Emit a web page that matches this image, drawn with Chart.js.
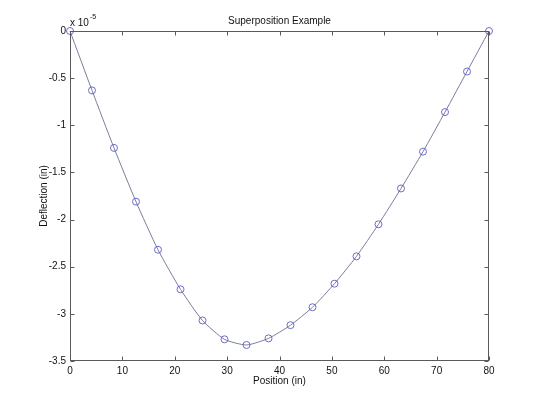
<!DOCTYPE html>
<html>
<head>
<meta charset="utf-8">
<script src="https://cdn.jsdelivr.net/npm/chart.js@4.4.0/dist/chart.umd.min.js"></script>
<style>
  html, body { margin: 0; padding: 0; background: #fff; }
  #wrap { width: 540px; height: 405px; }
</style>
</head>
<body>
<div id="wrap"><canvas id="chart" width="540" height="405"></canvas></div>
<script>
// position along the beam (in)
const positions = [0, 4.2, 8.4, 12.6, 16.8, 21.1, 25.3, 29.5, 33.7, 37.9,
                   42.1, 46.3, 50.5, 54.7, 58.9, 63.2, 67.4, 71.6, 75.8, 80];
// deflection, in units of 1e-5 in
const deflections = [0, -0.63, -1.24, -1.81, -2.32, -2.74, -3.07, -3.27, -3.33, -3.26,
                     -3.12, -2.93, -2.68, -2.39, -2.05, -1.67, -1.28, -0.86, -0.43, 0];
const xTicks = [0, 10, 20, 30, 40, 50, 60, 70, 80];
const yTicks = [0, -0.5, -1, -1.5, -2, -2.5, -3, -3.5];

const FONT = "'Liberation Sans', Arial, sans-serif";
const AXIS = "#5a5a5a";

// MATLAB style: box round the axes, ticks pointing inwards on all four sides
const matlabAxes = {
  id: "matlabAxes",
  afterDraw(chart) {
    const { ctx, chartArea: a, scales } = chart;
    const x = scales.x, y = scales.y;
    ctx.save();
    ctx.strokeStyle = AXIS;
    ctx.lineWidth = 1;
    const L = Math.round(a.left) + 0.5, R = Math.round(a.right) - 0.5;
    const T = Math.round(a.top) + 0.5, B = Math.round(a.bottom) - 0.5;
    ctx.strokeRect(L, T, R - L, B - T);
    ctx.beginPath();
    x.ticks.forEach(t => {
      const px = Math.round(x.getPixelForValue(t.value)) + 0.5;
      ctx.moveTo(px, B); ctx.lineTo(px, B - 4);
      ctx.moveTo(px, T); ctx.lineTo(px, T + 4);
    });
    y.ticks.forEach(t => {
      const py = Math.round(y.getPixelForValue(t.value)) + 0.5;
      ctx.moveTo(L, py); ctx.lineTo(L + 4, py);
      ctx.moveTo(R, py); ctx.lineTo(R - 4, py);
    });
    ctx.stroke();

    // title
    ctx.fillStyle = "#111";
    ctx.textBaseline = "middle";
    ctx.textAlign = "center";
    ctx.font = "10px " + FONT;
    ctx.fillText("Superposition Example", (a.left + a.right) / 2, 21);

    // exponent of the y axis
    ctx.textAlign = "left";
    ctx.fillText("x 10", a.left, 23.5);
    const w = ctx.measureText("x 10").width;
    ctx.font = "7px " + FONT;
    ctx.fillText("-5", a.left + w + 1, 17);
    ctx.restore();
  }
};

const points = positions.map((p, i) => ({ x: p, y: deflections[i] }));

new Chart(document.getElementById("chart"), {
  type: "line",
  data: {
    datasets: [{
      data: points,
      borderColor: "#7c7c9c",
      borderWidth: 1,
      tension: 0.2,
      pointStyle: "circle",
      pointRadius: 3.5,
      pointBorderColor: "#5c5cc8",
      pointBorderWidth: 0.9,
      pointBackgroundColor: "rgba(0,0,0,0)",
      clip: false
    }]
  },
  options: {
    responsive: false,
    animation: false,
    events: [],
    layout: { padding: { top: 31, right: 51, bottom: 0, left: 0 } },
    plugins: { legend: { display: false }, tooltip: { enabled: false } },
    scales: {
      x: {
        type: "linear",
        min: 0,
        max: 80,
        afterBuildTicks: s => { s.ticks = xTicks.map(v => ({ value: v })); },
        afterFit: s => { s.height = 44; },
        grid: { display: false, drawTicks: false },
        border: { display: false },
        ticks: {
          padding: 4,
          color: "#111",
          font: { family: FONT, size: 10 },
          maxRotation: 0,
          callback: v => String(v)
        },
        title: {
          display: true,
          text: "Position (in)",
          color: "#111",
          font: { family: FONT, size: 10 },
          padding: { top: 0, bottom: 18 }
        }
      },
      y: {
        type: "linear",
        min: -3.5,
        max: 0,
        afterBuildTicks: s => { s.ticks = yTicks.map(v => ({ value: v })); },
        afterFit: s => { s.width = 70; },
        grid: { display: false, drawTicks: false },
        border: { display: false },
        ticks: {
          padding: 4,
          color: "#111",
          font: { family: FONT, size: 10 },
          callback: v => String(v)
        },
        title: {
          display: true,
          text: "Deflection (in)",
          color: "#111",
          font: { family: FONT, size: 10 },
          padding: { top: 38, bottom: 0 }
        }
      }
    }
  },
  plugins: [matlabAxes]
});
</script>
</body>
</html>
